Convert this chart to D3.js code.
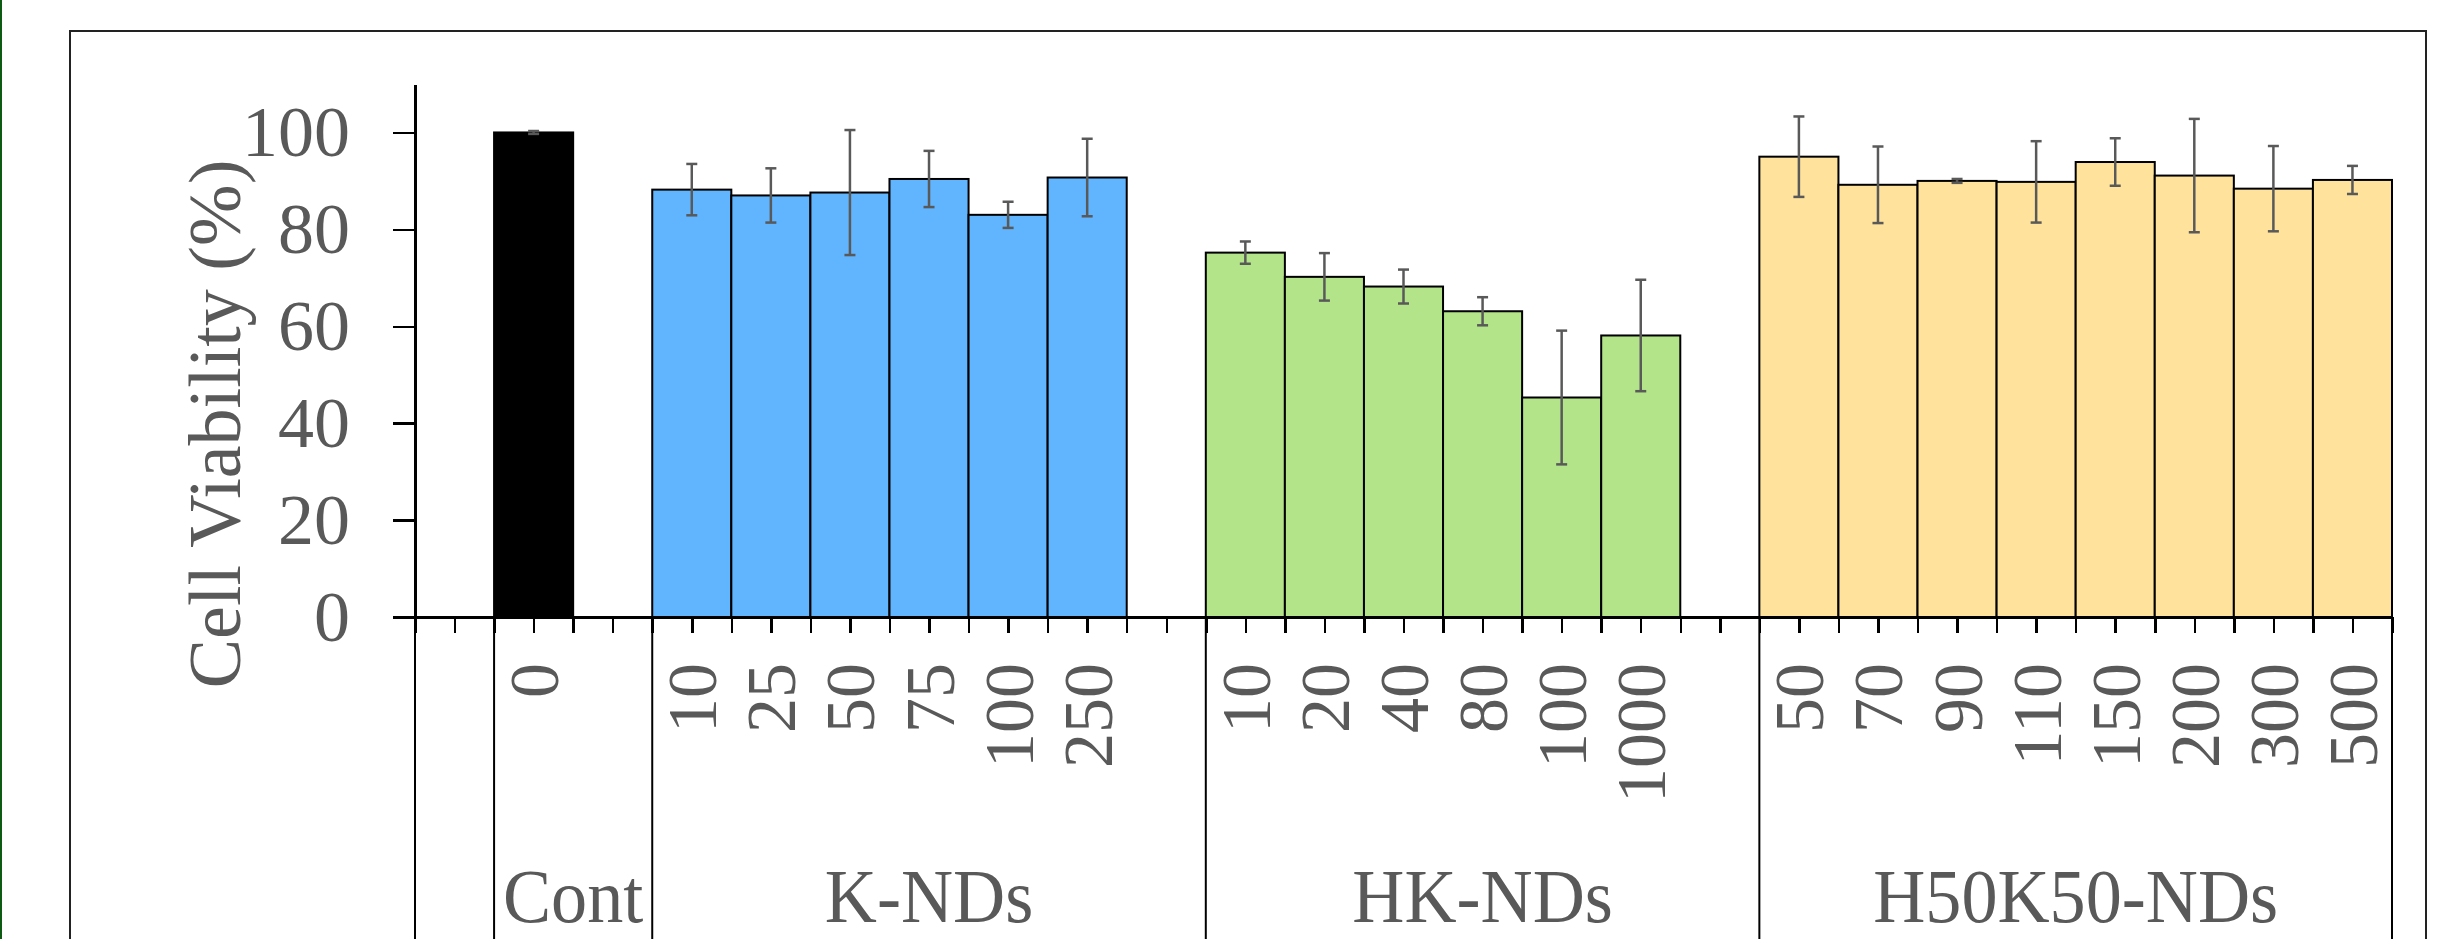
<!DOCTYPE html>
<html>
<head>
<meta charset="utf-8">
<title>Cell viability</title>
<script src="https://d3js.org/d3.v7.min.js"></script>
<style>
 body { margin: 0; background: #fff; }
 svg { display: block; }
 text { font-family: "Liberation Serif", "Times New Roman", serif; fill: #595959; }
 .axis path, .axis line { stroke: #000; stroke-width: 2.5; shape-rendering: crispEdges; }
</style>
</head>
<body>
<div id="chart"></div>
<script>
// data (mean, sd) per dose group
var groupNames = ["Cont", "K-NDs", "HK-NDs", "H50K50-NDs"];
var barColors = ["#000000", "#61b4fe", "#b3e48a", "#ffe29c"];

var contDose = ["0"];
var contMean = [100];
var contSd = [0.3];

var kDose = ["10", "25", "50", "75", "100", "250"];
var kMean = [88.2, 87.0, 87.6, 90.4, 83.0, 90.7];
var kSd = [5.3, 5.6, 12.9, 5.8, 2.7, 8.0];

var hkDose = ["10", "20", "40", "80", "100", "1000"];
var hkMean = [75.2, 70.2, 68.2, 63.1, 45.3, 58.1];
var hkSd = [2.3, 4.9, 3.5, 2.9, 13.8, 11.5];

var hDose = ["50", "70", "90", "110", "150", "200", "300", "500"];
var hMean = [95.0, 89.2, 90.0, 89.8, 93.9, 91.1, 88.4, 90.2];
var hSd = [8.3, 7.9, 0.4, 8.4, 4.9, 11.7, 8.8, 2.9];

var yTicks = [0, 20, 40, 60, 80, 100];

var width = 2438, height = 939;
var x0 = 415, x1 = 2392, yZero = 617, yTop = 84;

var doses = [contDose, kDose, hkDose, hDose];
var means = [contMean, kMean, hkMean, hMean];
var sds = [contSd, kSd, hkSd, hSd];

// slots: leading spacer, then each group's bars followed by a spacer
var slots = ["pad0"];
var bars = [];
var groupStart = [];
groupNames.forEach(function(g, gi) {
  groupStart.push(slots.length);
  doses[gi].forEach(function(d, i) {
    var id = g + "|" + d;
    slots.push(id);
    bars.push({id: id, group: gi, dose: d, mean: means[gi][i], sd: sds[gi][i]});
  });
  if (gi < groupNames.length - 1) slots.push("pad" + (gi + 1));
});

var xScale = d3.scaleBand().domain(slots).range([x0, x1]).padding(0);
var xLin = d3.scaleLinear().domain([0, slots.length]).range([x0, x1]);
var yScale = d3.scaleLinear().domain([0, 110]).range([yZero, yTop]);
var bw = xScale.bandwidth();

var svg = d3.select("#chart").append("svg")
  .attr("width", width)
  .attr("height", height);

// left edge line and outer frame
svg.append("rect").attr("x", 0).attr("y", 0).attr("width", 2).attr("height", height).attr("fill", "#0d5a12");
svg.append("rect")
  .attr("x", 70).attr("y", 31).attr("width", 2356).attr("height", 1000)
  .attr("fill", "none").attr("stroke", "#222").attr("stroke-width", 2);

// bars
svg.selectAll(".bar")
  .data(bars)
  .enter().append("rect")
  .attr("class", "bar")
  .attr("x", function(d) { return xScale(d.id); })
  .attr("y", function(d) { return yScale(d.mean); })
  .attr("width", bw)
  .attr("height", function(d) { return yZero - yScale(d.mean); })
  .attr("fill", function(d) { return barColors[d.group]; })
  .attr("stroke", "#000")
  .attr("stroke-width", 2);

// error bars
var err = svg.selectAll(".err")
  .data(bars)
  .enter().append("g")
  .attr("class", "err")
  .attr("stroke", "#595959")
  .attr("stroke-width", 2.5);
err.append("line")
  .attr("x1", function(d) { return xScale(d.id) + bw / 2; })
  .attr("x2", function(d) { return xScale(d.id) + bw / 2; })
  .attr("y1", function(d) { return yScale(d.mean + d.sd); })
  .attr("y2", function(d) { return yScale(d.mean - d.sd); });
[1, -1].forEach(function(s) {
  err.append("line")
    .attr("x1", function(d) { return xScale(d.id) + bw / 2 - 5.5; })
    .attr("x2", function(d) { return xScale(d.id) + bw / 2 + 5.5; })
    .attr("y1", function(d) { return yScale(d.mean + s * d.sd); })
    .attr("y2", function(d) { return yScale(d.mean + s * d.sd); });
});

// y axis
var yAxis = svg.append("g")
  .attr("class", "axis")
  .attr("transform", "translate(" + x0 + ",0)")
  .call(d3.axisLeft(yScale).tickValues(yTicks).tickSize(22).tickSizeOuter(0).tickPadding(43));
yAxis.selectAll("text")
  .style("font-size", "72px")
  .attr("fill", "#595959")
  .style("font-family", "'Liberation Serif', 'Times New Roman', serif");

svg.append("text")
  .attr("transform", "translate(240,424) rotate(-90)")
  .attr("text-anchor", "middle")
  .style("font-size", "74px")
  .text("Cell Viability (%)");

// x axis: ticks every half slot
var xAxis = svg.append("g")
  .attr("class", "axis")
  .attr("transform", "translate(0," + yZero + ")")
  .call(d3.axisBottom(xLin).tickValues(d3.range(0, slots.length + 0.01, 0.5)).tickSize(16).tickSizeOuter(0).tickFormat(""));

// table separators below the axis
var sepIdx = [0].concat(groupStart).concat([slots.length]);
svg.selectAll(".sep")
  .data(sepIdx)
  .enter().append("line")
  .attr("class", "sep")
  .attr("x1", function(d) { return xLin(d); })
  .attr("x2", function(d) { return xLin(d); })
  .attr("y1", yZero)
  .attr("y2", height)
  .attr("stroke", "#000")
  .attr("stroke-width", 2);

// dose labels
svg.selectAll(".dose")
  .data(bars)
  .enter().append("text")
  .attr("class", "dose")
  .attr("transform", function(d) { return "translate(" + (xScale(d.id) + bw / 2) + ",663) rotate(-90)"; })
  .attr("text-anchor", "end")
  .attr("dy", "0.35em")
  .style("font-size", "70px")
  .text(function(d) { return d.dose; });

// group labels
svg.selectAll(".grp")
  .data(groupNames)
  .enter().append("text")
  .attr("class", "grp")
  .attr("transform", function(d, i) {
    var a = xLin(groupStart[i]);
    var b = i < groupNames.length - 1 ? xLin(groupStart[i + 1]) : xLin(slots.length);
    return "translate(" + ((a + b) / 2) + ",922) scale(0.95,1)";
  })
  .attr("text-anchor", "middle")
  .style("font-size", "76px")
  .text(function(d) { return d; });
</script>
</body>
</html>
